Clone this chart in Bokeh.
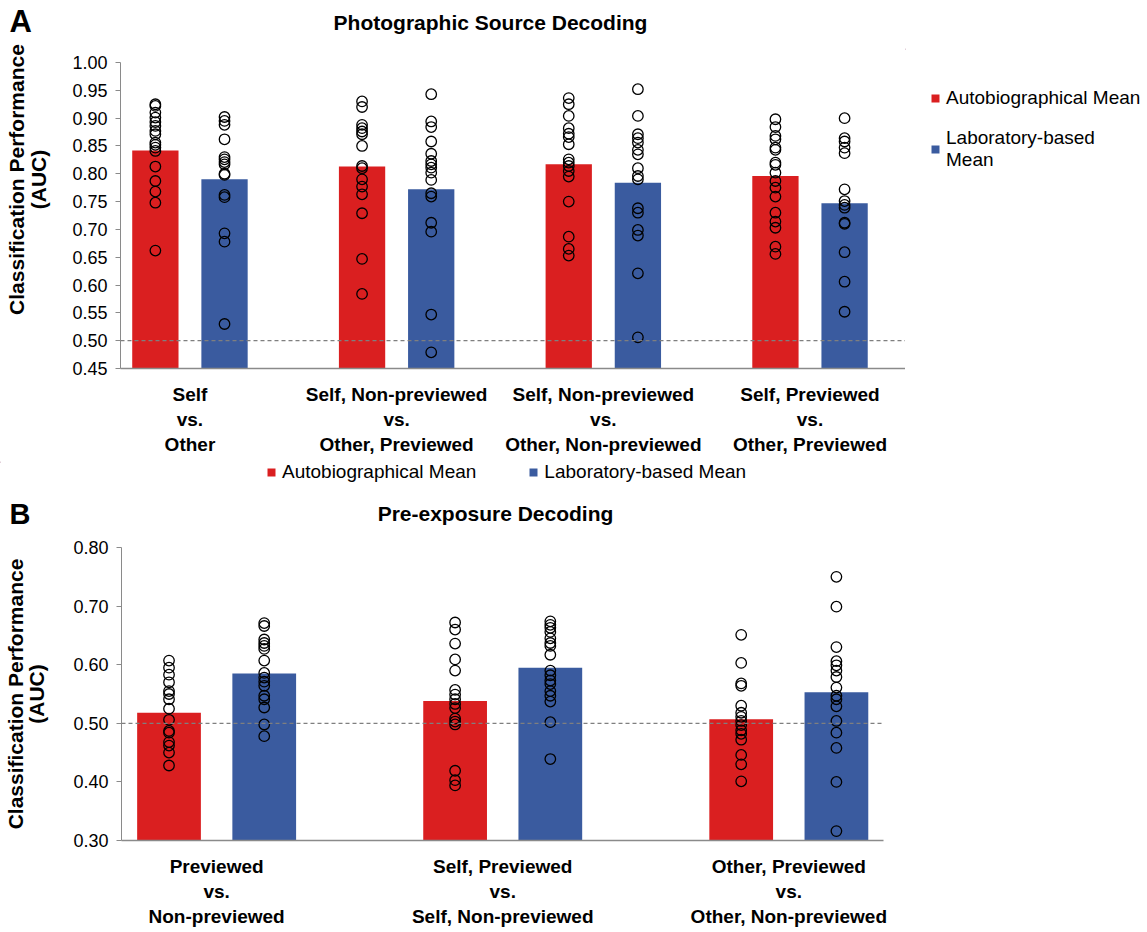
import math
from bokeh.plotting import figure
from bokeh.models import (Range1d, FixedTicker, Span, Legend, LegendItem,
                          NumeralTickFormatter)
from bokeh.core.properties import value
from bokeh.layouts import column, row
from bokeh.embed import file_html
from bokeh.resources import INLINE

# ---------------- data ----------------
A_title = "Photographic Source Decoding"
y_label = "Classification Performance\n(AUC)"
A_groups = ["Self\nvs.\nOther",
            "Self, Non-previewed\nvs.\nOther, Previewed",
            "Self, Non-previewed\nvs.\nOther, Non-previewed",
            "Self, Previewed\nvs.\nOther, Previewed"]
A_auto_mean = [0.842, 0.813, 0.817, 0.796]
A_lab_mean = [0.790, 0.772, 0.784, 0.747]
A_auto_pts = [
    [0.925, 0.922, 0.910, 0.901, 0.893, 0.886, 0.877, 0.871, 0.856, 0.852, 0.847, 0.841, 0.813, 0.787, 0.768, 0.748, 0.662],
    [0.930, 0.920, 0.888, 0.882, 0.876, 0.871, 0.850, 0.814, 0.810, 0.790, 0.777, 0.763, 0.729, 0.647, 0.584],
    [0.936, 0.925, 0.904, 0.882, 0.872, 0.866, 0.853, 0.826, 0.820, 0.814, 0.805, 0.795, 0.750, 0.687, 0.665, 0.653],
    [0.898, 0.884, 0.868, 0.862, 0.847, 0.843, 0.820, 0.816, 0.802, 0.787, 0.775, 0.759, 0.730, 0.714, 0.703, 0.669, 0.656],
]
A_lab_pts = [
    [0.902, 0.895, 0.888, 0.862, 0.830, 0.826, 0.821, 0.817, 0.800, 0.798, 0.762, 0.758, 0.693, 0.678, 0.530],
    [0.943, 0.894, 0.884, 0.858, 0.836, 0.823, 0.817, 0.811, 0.802, 0.789, 0.765, 0.759, 0.712, 0.696, 0.547, 0.479],
    [0.952, 0.904, 0.871, 0.864, 0.856, 0.843, 0.835, 0.810, 0.796, 0.790, 0.738, 0.730, 0.699, 0.689, 0.621, 0.506],
    [0.900, 0.864, 0.858, 0.847, 0.837, 0.772, 0.751, 0.744, 0.739, 0.712, 0.710, 0.659, 0.606, 0.552],
]
A_yticks = [0.45, 0.50, 0.55, 0.60, 0.65, 0.70, 0.75, 0.80, 0.85, 0.90, 0.95, 1.00]

B_title = "Pre-exposure Decoding"
B_groups = ["Previewed\nvs.\nNon-previewed",
            "Self, Previewed\nvs.\nSelf, Non-previewed",
            "Other, Previewed\nvs.\nOther, Non-previewed"]
B_auto_mean = [0.518, 0.538, 0.507]
B_lab_mean = [0.585, 0.595, 0.553]
B_auto_pts = [
    [0.607, 0.595, 0.583, 0.570, 0.555, 0.550, 0.541, 0.525, 0.506, 0.487, 0.484, 0.468, 0.462, 0.450, 0.428],
    [0.672, 0.660, 0.636, 0.609, 0.590, 0.557, 0.549, 0.541, 0.533, 0.526, 0.508, 0.503, 0.498, 0.419, 0.403, 0.394],
    [0.651, 0.603, 0.568, 0.564, 0.530, 0.518, 0.511, 0.504, 0.497, 0.488, 0.482, 0.472, 0.446, 0.430, 0.401],
]
B_lab_pts = [
    [0.671, 0.666, 0.643, 0.637, 0.632, 0.627, 0.607, 0.586, 0.578, 0.571, 0.564, 0.547, 0.541, 0.527, 0.498, 0.478],
    [0.674, 0.668, 0.663, 0.656, 0.645, 0.637, 0.632, 0.617, 0.590, 0.582, 0.573, 0.567, 0.555, 0.547, 0.537, 0.502, 0.439],
    [0.750, 0.699, 0.630, 0.606, 0.599, 0.590, 0.579, 0.561, 0.547, 0.541, 0.529, 0.504, 0.484, 0.458, 0.400, 0.316],
]
B_yticks = [0.30, 0.40, 0.50, 0.60, 0.70, 0.80]

series_names = ["Autobiographical Mean", "Laboratory-based Mean"]
series_names_wrapped = ["Autobiographical Mean", "Laboratory-based\nMean"]
chance = 0.50

# ---------------- style ----------------
RED = "#DA1F20"
BLUE = "#3A5B9F"
FONT = "Liberation Sans"
AXIS_GRAY = "#8a8a8a"


def blank(w, h):
    f = figure(width=w, height=h, x_range=Range1d(0, w), y_range=Range1d(h, 0),
               output_backend="svg", toolbar_location=None, min_border=0,
               x_axis_location=None, y_axis_location=None, frame_align=False)
    f.grid.visible = False
    f.outline_line_color = None
    return f


def header_text(f, x, y, txt, size, align, angle=0.0, line_height=1.2):
    f.text(x=[x], y=[y], text=[txt], text_font=value(FONT), text_font_style="bold",
           text_font_size=size, text_align=align, text_baseline="middle", text_color="black",
           angle=angle, text_line_height=line_height)


def make_legend(f, labels, loc, orientation, spacing):
    rs = [f.vbar(x=[-1000], top=[1], bottom=0, width=1, fill_color=c, line_color=None)
          for c in (RED, BLUE)]
    leg = Legend(items=[LegendItem(label=l, renderers=[r]) for l, r in zip(labels, rs)],
                 location=loc, orientation=orientation,
                 label_text_font=FONT, label_text_font_size="19px", label_text_color="black",
                 glyph_width=10, glyph_height=10, label_standoff=6, spacing=spacing,
                 padding=0, margin=0, border_line_color=None, background_fill_alpha=0)
    f.add_layout(leg)


def make_panel(groups, auto_mean, lab_mean, auto_pts, lab_pts, yticks,
               width, height, borders, xr, bar_w, off, ylab):
    left, right, top, bottom = borders
    p = figure(width=width, height=height,
               x_range=Range1d(*xr), y_range=Range1d(yticks[0], yticks[-1]),
               output_backend="svg", toolbar_location=None, frame_align=False,
               min_border_left=left, min_border_right=right,
               min_border_top=top, min_border_bottom=bottom)
    p.xgrid.visible = False
    p.ygrid.visible = False
    p.outline_line_color = None
    xs = list(range(len(groups)))
    p.vbar(x=[x - off for x in xs], top=auto_mean, bottom=yticks[0], width=bar_w,
           fill_color=RED, line_color=None)
    p.vbar(x=[x + off for x in xs], top=lab_mean, bottom=yticks[0], width=bar_w,
           fill_color=BLUE, line_color=None)
    p.add_layout(Span(location=chance, dimension="width", line_color="#7f7f7f",
                      line_dash="4 3", line_width=1.3))
    px, py = [], []
    for i, pts in enumerate(auto_pts):
        px += [i - off] * len(pts)
        py += pts
    for i, pts in enumerate(lab_pts):
        px += [i + off] * len(pts)
        py += pts
    p.scatter(x=px, y=py, marker="circle", size=10.5, fill_color=None,
              line_color="black", line_width=1.3)

    ya = p.yaxis[0]
    ya.ticker = FixedTicker(ticks=yticks)
    ya.formatter = NumeralTickFormatter(format="0.00")
    if ylab:
        ya.axis_label = ylab
        ya.axis_label_text_font = FONT
        ya.axis_label_text_font_style = "bold"
        ya.axis_label_text_font_size = "21px"
        ya.axis_label_text_color = "black"
        ya.axis_label_text_line_height = 0.95
        ya.axis_label_standoff = 22
    ya.major_label_text_font = FONT
    ya.major_label_text_font_size = "18px"
    ya.major_label_text_color = "black"
    ya.major_label_standoff = 8
    ya.axis_line_color = AXIS_GRAY
    ya.major_tick_line_color = AXIS_GRAY
    ya.major_tick_out = 5
    ya.major_tick_in = 0
    ya.minor_tick_line_color = None

    xa = p.xaxis[0]
    xa.ticker = FixedTicker(ticks=xs)
    xa.major_label_overrides = {i: g for i, g in enumerate(groups)}
    xa.major_label_text_font = FONT
    xa.major_label_text_font_style = "bold"
    xa.major_label_text_font_size = "19px"
    xa.major_label_text_color = "black"
    xa.major_label_standoff = 9
    xa.major_label_text_line_height = 1.2
    xa.axis_line_color = AXIS_GRAY
    xa.axis_line_width = 1.5
    xa.major_tick_line_color = None
    xa.minor_tick_line_color = None
    return p


# ---------- Panel A ----------
sideA = blank(58, 461)
header_text(sideA, 9, 21, "A", "31px", "left")
header_text(sideA, 27, 179, y_label, "21px", "center", angle=math.pi / 2, line_height=0.95)

hdrA = blank(1087, 48)
header_text(hdrA, 432, 22, A_title, "21px", "center")

pA = make_panel(A_groups, A_auto_mean, A_lab_mean, A_auto_pts, A_lab_pts, A_yticks,
                847, 413, (62, 0, 14, 93), (-0.336, 3.462), 0.224, 0.1673, None)
legA_fig = blank(240, 413)
make_legend(legA_fig, series_names_wrapped, (25, 290), "vertical", 18)

# ---------- Panel B ----------
hdrB = blank(1145, 74)
make_legend(hdrB, series_names, (266, 52), "horizontal", 52)
header_text(hdrB, 9, 52, "B", "29px", "left")
header_text(hdrB, 495, 52, B_title, "21px", "center")

pB = make_panel(B_groups, B_auto_mean, B_lab_mean, B_auto_pts, B_lab_pts, B_yticks,
                1140, 394, (118, 257, 12, 74), (-0.3325, 2.331), 0.2228, 0.1664, y_label)

blockA = row(sideA, column(hdrA, row(pA, legA_fig, spacing=0), spacing=0), spacing=0)
layout = column(blockA, hdrB, pB, spacing=0)
open("out.html", "w").write(file_html(layout, INLINE))
